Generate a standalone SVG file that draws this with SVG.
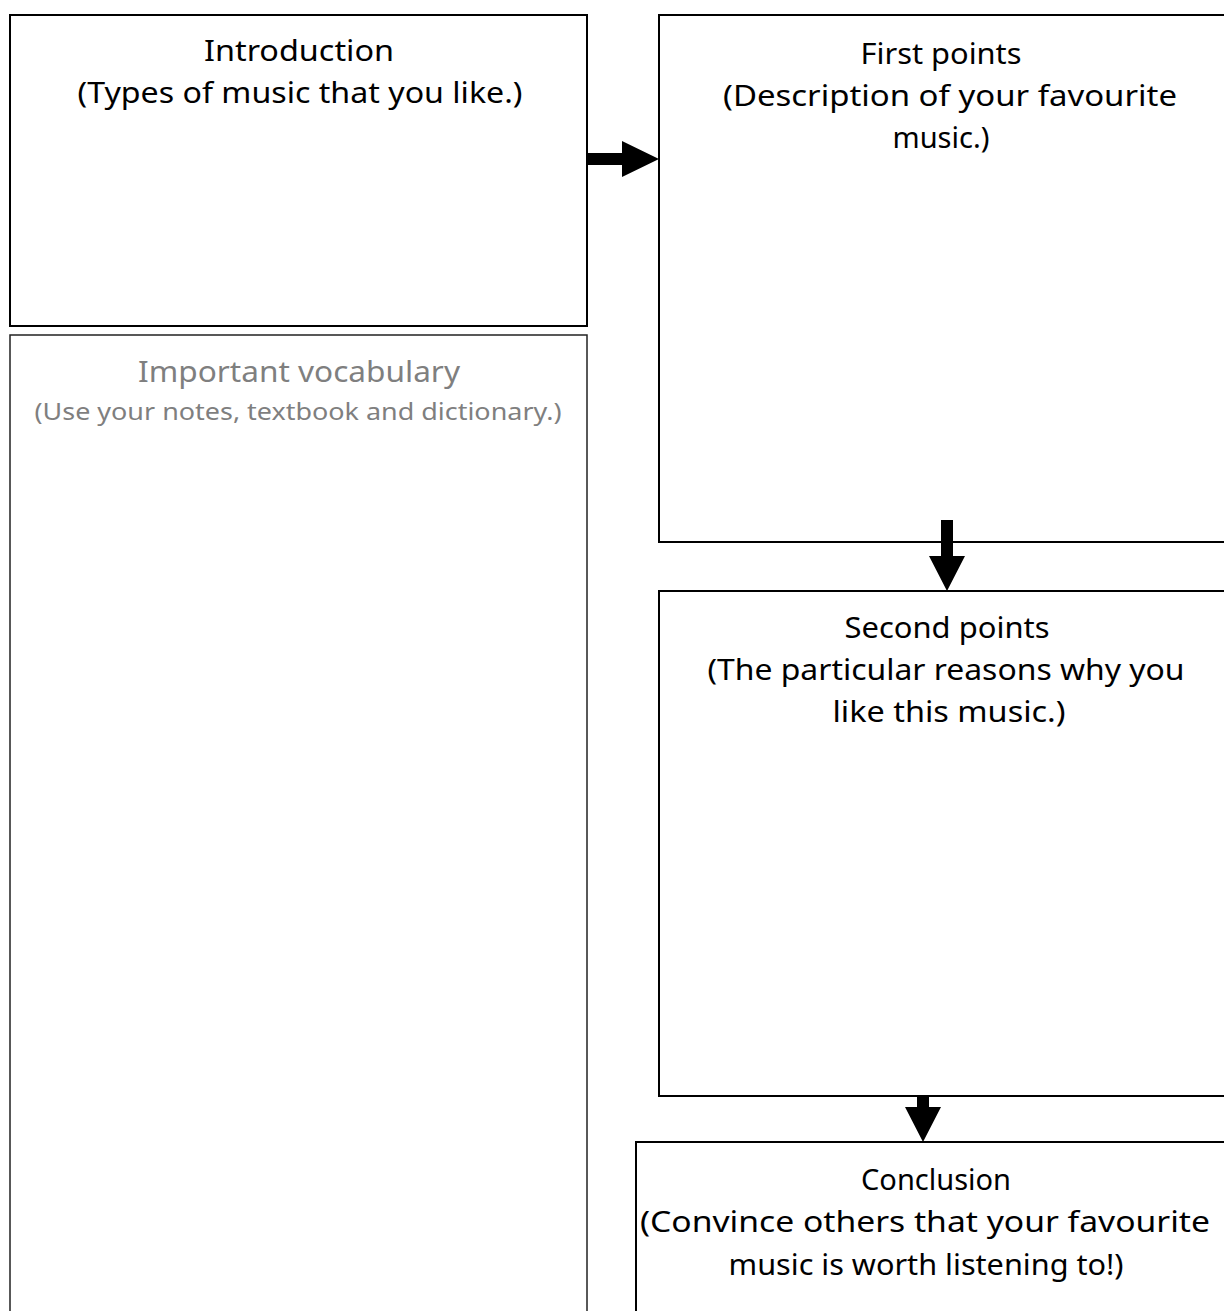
<svg xmlns="http://www.w3.org/2000/svg" width="1224" height="1311" viewBox="0 0 1224 1311">
<style>
.box{fill:#fff;stroke:#000;stroke-width:2}
.vbox{fill:#fff;stroke:#222;stroke-width:1.5}
.t{font-family:"Comic Sans MS","Noto Sans",sans-serif;font-size:29px;fill:#000;text-anchor:middle}
.g{fill:#7f7f7f}
.s{font-size:23px}
.arr{fill:#000;stroke:none}
</style>
<rect width="1224" height="1311" fill="#fff"/>
<g id="intro">
<rect class="box" x="10" y="15" width="577" height="311"/>
<text class="t" x="299" y="61" textLength="190" lengthAdjust="spacingAndGlyphs">Introduction</text>
<text class="t" x="300" y="103" textLength="445" lengthAdjust="spacingAndGlyphs">(Types of music that you like.)</text>
</g>
<g id="vocab">
<rect class="vbox" x="10" y="335" width="577" height="990"/>
<text class="t g" x="299" y="382" textLength="322" lengthAdjust="spacingAndGlyphs">Important vocabulary</text>
<text class="t g s" x="298" y="420" textLength="527" lengthAdjust="spacingAndGlyphs">(Use your notes, textbook and dictionary.)</text>
</g>
<g id="first">
<rect class="box" x="659" y="15" width="580" height="527"/>
<text class="t" x="941" y="64" textLength="161" lengthAdjust="spacingAndGlyphs">First points</text>
<text class="t" x="950" y="106" textLength="454" lengthAdjust="spacingAndGlyphs">(Description of your favourite</text>
<text class="t" x="941" y="148" textLength="97" lengthAdjust="spacingAndGlyphs">music.)</text>
</g>
<g id="second">
<rect class="box" x="659" y="591" width="580" height="505"/>
<text class="t" x="947" y="638" textLength="205" lengthAdjust="spacingAndGlyphs">Second points</text>
<text class="t" x="946" y="680" textLength="477" lengthAdjust="spacingAndGlyphs">(The particular reasons why you</text>
<text class="t" x="949" y="722" textLength="233" lengthAdjust="spacingAndGlyphs">like this music.)</text>
</g>
<g id="conclusion">
<rect class="box" x="636" y="1142" width="600" height="190"/>
<text class="t" x="936" y="1190" textLength="150" lengthAdjust="spacingAndGlyphs">Conclusion</text>
<text class="t" x="925" y="1232" textLength="570" lengthAdjust="spacingAndGlyphs">(Convince others that your favourite</text>
<text class="t" x="926" y="1275" textLength="395" lengthAdjust="spacingAndGlyphs">music is worth listening to!)</text>
</g>
<g id="connectors">
<polygon class="arr" points="587,153 622,153 622,141 659,159 622,177 622,165 587,165"/>
<polygon class="arr" points="941,520 953,520 953,556 965,556 947,591 929,556 941,556"/>
<polygon class="arr" points="917,1096 929,1096 929,1107 941,1107 923,1142 905,1107 917,1107"/>
</g>
</svg>
